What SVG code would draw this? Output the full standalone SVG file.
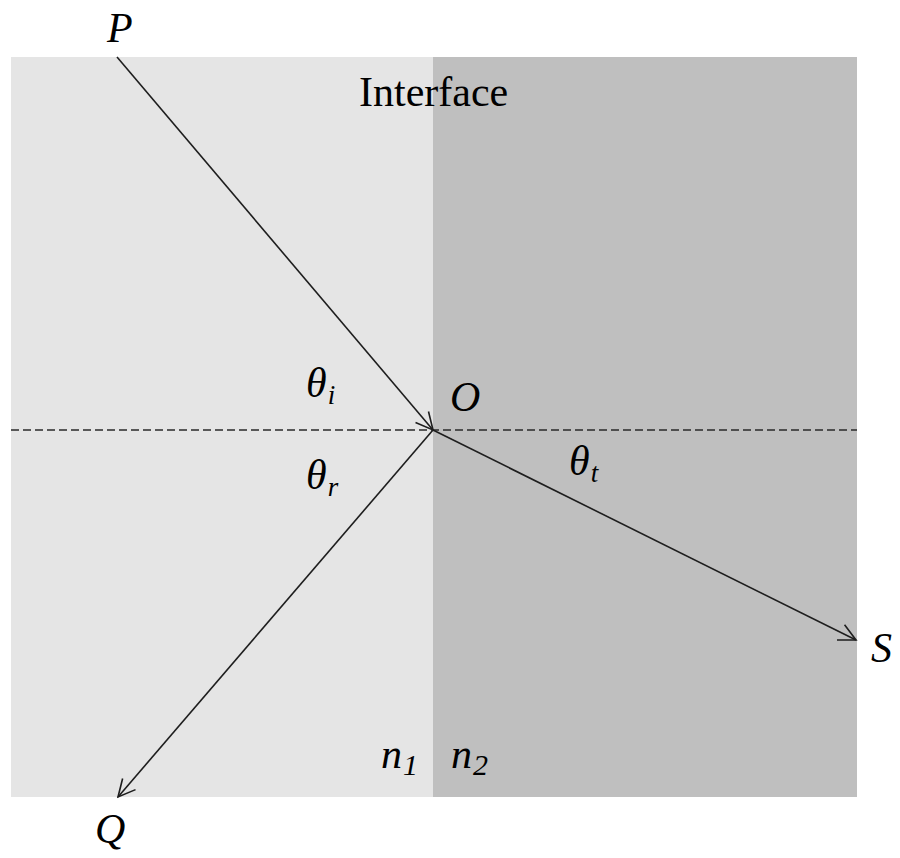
<svg xmlns="http://www.w3.org/2000/svg" width="900" height="858" viewBox="0 0 900 858">
  <style>
    .ray { stroke: #1e1e1e; stroke-width: 1.6; fill: none; }
    .lbl { font-family: "Liberation Serif", "Times New Roman", serif; font-style: italic; font-size: 42px; fill: #000; }
    .sub { font-size: 27px; }
    .nsub { font-size: 30px; }
    .plain { font-family: "Liberation Serif", "Times New Roman", serif; font-size: 42px; fill: #000; }
  </style>
  <defs>
    <marker id="arrow" viewBox="0 0 20 20" refX="18" refY="10" markerWidth="20" markerHeight="20" markerUnits="userSpaceOnUse" orient="auto">
      <path d="M1,1.5 L18,10 L1,18.5" fill="none" stroke="#1e1e1e" stroke-width="1.6"/>
    </marker>
  </defs>
  <rect width="900" height="858" fill="#fff"/>
  <g id="medium1">
    <rect x="11" y="57" width="422" height="740" fill="#e5e5e5"/>
    <text class="lbl" x="381" y="768">n<tspan class="nsub" dx="1" dy="7">1</tspan></text>
  </g>
  <g id="medium2">
    <rect x="433" y="57" width="424" height="740" fill="#bfbfbf"/>
    <text class="lbl" x="451" y="768">n<tspan class="nsub" dx="1" dy="7">2</tspan></text>
  </g>
  <g id="interface">
    <text class="plain" x="359" y="106">Interface</text>
  </g>
  <g id="connectors">
    <line x1="11" y1="430" x2="857" y2="430" stroke="#2a2a2a" stroke-width="1.6" stroke-dasharray="8,4"/>
    <line class="ray" x1="117" y1="57" x2="433" y2="430" marker-end="url(#arrow)"/>
    <line class="ray" x1="433" y1="430" x2="856" y2="640" marker-end="url(#arrow)"/>
    <line class="ray" x1="433" y1="430" x2="118" y2="797" marker-end="url(#arrow)"/>
  </g>
  <g id="P"><text class="lbl" x="107" y="42">P</text></g>
  <g id="O"><text class="lbl" x="450" y="411">O</text></g>
  <g id="S"><text class="lbl" x="871" y="662">S</text></g>
  <g id="Q"><text class="lbl" x="95" y="843">Q</text></g>
  <g id="theta_i"><text class="lbl" x="306" y="397">θ<tspan class="sub" dx="1" dy="7">i</tspan></text></g>
  <g id="theta_r"><text class="lbl" x="306" y="489">θ<tspan class="sub" dx="1" dy="7">r</tspan></text></g>
  <g id="theta_t"><text class="lbl" x="569" y="475">θ<tspan class="sub" dx="1" dy="7">t</tspan></text></g>
</svg>
